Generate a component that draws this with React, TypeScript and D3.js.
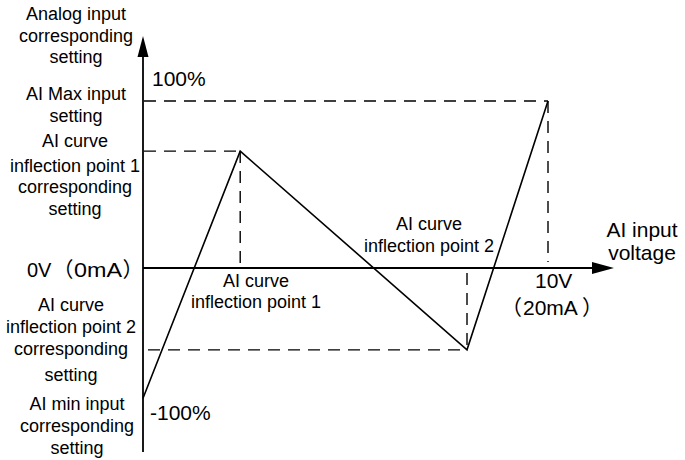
import React from "react";
import * as d3 from "d3";

const inputVoltage = [0, 2.4, 8.0, 10];
const settingPct = [-78, 70, -49, 100];
const xDomain = [0, 10];
const yDomain = [-100, 100];

const leftBlocks = [
  { lines: ["Analog input", "corresponding", "setting"], cx: 76, ys: [20, 42, 63] },
  { lines: ["AI Max input", "setting"], cx: 76, ys: [100, 122] },
  { lines: ["AI curve", "inflection point 1", "corresponding", "setting"], cx: 75, ys: [147, 172, 193, 215] },
  { lines: ["AI curve", "inflection point 2", "corresponding", "setting"], cx: 71, ys: [311, 333, 355, 381] },
  { lines: ["AI min input", "corresponding", "setting"], cx: 77, ys: [410, 432, 454] },
];

const FONT = "'Liberation Sans', Arial, 'Noto Sans CJK SC', sans-serif";

export default function App() {
  const W = 685, H = 460;
  const x = d3.scaleLinear().domain(xDomain).range([143, 548]);
  const y = d3.scaleLinear().domain(yDomain).range([435, 101]);
  const x0 = x(0), y0 = y(0);
  const pts: [number, number][] = inputVoltage.map((v, i) => [x(v), y(settingPct[i])]);
  const line = d3.line<[number, number]>()(pts) || "";
  const [, p1, p2, pMax] = pts;
  const dash = "12,8";
  const axisEnd = 614;
  const yTop = 36;

  return (
    <svg width={W} height={H} style={{ position: "absolute", left: 0, top: 0, background: "#fff" }} fontFamily={FONT}>
      <rect x={0} y={0} width={W} height={H} fill="#fff" />
      {/* dashed guides */}
      <g stroke="#000" strokeWidth={1.4} strokeDasharray={dash} fill="none">
        <line x1={x0 + 1} y1={pMax[1]} x2={pMax[0]} y2={pMax[1]} />
        <line x1={pMax[0]} y1={pMax[1]} x2={pMax[0]} y2={y0 - 6} />
        <line x1={x0 + 1} y1={p1[1]} x2={p1[0]} y2={p1[1]} />
        <line x1={p1[0]} y1={p1[1]} x2={p1[0]} y2={y0} />
        <line x1={x0 + 5} y1={p2[1]} x2={p2[0]} y2={p2[1]} />
        <line x1={p2[0]} y1={y0 + 5} x2={p2[0]} y2={p2[1]} />
      </g>
      {/* axes */}
      <g stroke="#000" strokeWidth={1.8}>
        <line x1={x0} y1={452} x2={x0} y2={yTop + 18} />
        <line x1={x0} y1={y0} x2={axisEnd - 20} y2={y0} />
      </g>
      <path d={`M${x0},${yTop} L${x0 - 5.5},${yTop + 21} L${x0 + 5.5},${yTop + 21} Z`} fill="#000" />
      <path d={`M${axisEnd},${y0} L${axisEnd - 22},${y0 - 6} L${axisEnd - 22},${y0 + 6} Z`} fill="#000" />
      {/* curve */}
      <path d={line} fill="none" stroke="#000" strokeWidth={1.6} />

      {/* left labels */}
      <g fontSize={18} fill="#000" textAnchor="middle">
        {leftBlocks.map((b, bi) =>
          b.lines.map((t, i) => (
            <text key={bi + "-" + i} x={b.cx} y={b.ys[i]}>{t}</text>
          ))
        )}
      </g>
      <g fontSize={21} fill="#000">
        <text x={152} y={86}>100%</text>
        <text x={150} y={420}>-100%</text>
        <text x={27} y={277} fontSize={20}>0V</text>
        <text x={52.5} y={277}>（</text>
        <text x={74} y={277} textLength={48} lengthAdjust="spacingAndGlyphs">0mA</text>
        <text x={122.5} y={277}>）</text>
        <text x={535} y={288}>10V</text>
        <text x={501} y={315}>（</text>
        <text x={523} y={315}>20mA</text>
        <text x={582} y={315}>）</text>
        <text x={642} y={237} textAnchor="middle">AI input</text>
        <text x={642} y={260} textAnchor="middle">voltage</text>
      </g>
      <g fontSize={18} fill="#000" textAnchor="middle">
        <text x={256} y={287}>AI curve</text>
        <text x={256} y={308}>inflection point 1</text>
        <text x={429} y={230}>AI curve</text>
        <text x={429} y={252}>inflection point 2</text>
      </g>
    </svg>
  );
}
